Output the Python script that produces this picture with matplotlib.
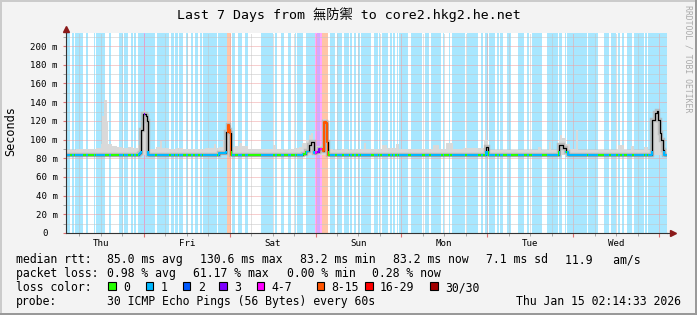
import numpy as np
import matplotlib
matplotlib.use('Agg')
import matplotlib.pyplot as plt
from matplotlib.path import Path
from matplotlib.patches import Rectangle
from matplotlib.ticker import FixedLocator, FuncFormatter, NullFormatter
import matplotlib.colors as mcolors

W, H = 697, 315

# ---------------- data (hours since Thu Jan 8 00:00) ----------------
start_h, end_h = 2.24, 170.24
day_labels = ['Thu', 'Fri', 'Sat', 'Sun', 'Mon', 'Tue', 'Wed']

# periods with zero packet loss (everything else not listed is loss "1")
loss0_gaps = [
    (3.31, 3.87), (4.52, 4.80), (7.13, 7.87), (8.34, 10.11), (10.48, 10.76),
    (13.09, 14.21), (14.86, 17.01), (18.13, 18.59), (19.62, 20.36), (20.92, 21.20),
    (21.76, 22.41), (27.17, 27.73), (31.17, 31.73), (32.39, 32.76), (33.50, 33.88),
    (34.90, 35.74), (36.39, 37.14), (37.88, 38.26), (39.10, 39.56), (40.12, 40.49),
    (44.41, 44.78), (48.32, 48.70), (49.44, 50.28), (51.40, 52.14), (53.17, 56.62),
    (60.07, 60.53), (61.28, 62.21), (63.05, 64.26), (65.19, 66.12), (66.59, 66.87),
    (68.45, 69.20), (75.44, 76.10), (77.40, 77.96), (79.45, 79.82), (81.22, 81.60),
    (82.25, 82.62), (83.37, 83.74), (84.30, 84.67), (87.47, 88.21), (89.33, 89.61),
    (89.98, 90.45), (92.31, 92.69), (93.34, 93.71), (94.27, 94.64), (95.11, 95.30),
    (97.91, 98.56), (101.82, 102.47), (103.68, 104.24), (107.13, 107.60), (107.88, 109.18),
    (109.65, 110.21), (113.66, 114.31), (117.38, 118.22), (118.78, 119.34), (120.18, 120.46),
    (122.23, 122.70), (123.16, 123.54), (124.37, 125.49), (126.70, 128.57), (130.25, 131.08),
    (131.55, 132.48), (135.37, 136.77), (139.75, 140.03), (140.87, 141.62), (142.08, 142.36),
    (147.86, 148.23), (150.94, 152.61), (154.01, 154.57), (156.06, 156.43), (156.99, 157.55),
    (158.21, 159.04), (160.44, 161.00), (163.80, 164.17), (164.64, 164.92),
]
# periods with higher loss
loss_bands = [
    (24.00, 24.37, '3'), (47.20, 48.32, '8-15'), (71.72, 72.37, '4-7'),
    (72.37, 73.11, '3'), (73.11, 73.67, '4-7'), (73.67, 75.44, '8-15'),
]

median_h = [2.24, 12.0, 20.0, 22.6, 23.0, 23.15, 23.9, 24.28, 24.64, 24.98, 25.3,
            35.0, 45.0, 45.1, 46.4, 46.9, 47.4, 47.85, 48.13, 48.41, 60.0,
            68.37, 69.3, 70.22, 70.69, 71.45, 72.09, 72.93, 73.97, 74.25, 74.9, 75.17, 75.36,
            90.0, 105.0, 118.9, 119.6, 120.1, 130.0, 140.0, 140.15, 141.05, 142.0, 142.6,
            155.0, 165.9, 166.0, 166.5, 166.87, 167.43, 167.8, 168.19, 168.55, 169.03, 169.47,
            170.24]
median_v = [83.7, 83.8, 83.7, 84.3, 86.0, 110.0, 127.0, 127.0, 125.0, 120.0, 83.7,
            83.6, 83.7, 85.5, 85.5, 108.0, 115.5, 110.0, 107.0, 83.7, 83.7,
            84.5, 88.0, 94.0, 97.0, 86.0, 87.0, 90.0, 88.0, 119.0, 118.0, 97.0, 83.7,
            83.6, 83.7, 83.7, 92.0, 83.7, 83.7, 83.8, 94.0, 90.5, 87.0, 83.7,
            83.7, 83.7, 121.0, 121.0, 128.0, 130.6, 121.0, 107.0, 99.5, 89.0, 83.7,
            83.2]

smoke_h = [2.24, 5.0, 7.0, 9.0, 10.5, 11.9, 12.26, 12.96, 13.65, 14.07, 15.0, 16.5, 18.0,
           19.5, 21.0, 22.5, 23.0, 23.2, 23.9, 24.3, 24.7, 25.0, 25.35, 26.0, 27.5, 28.4,
           29.2, 31.0, 33.0, 35.0, 37.0, 39.0, 41.0, 43.6, 44.2, 45.0, 46.0, 46.9, 47.4,
           47.85, 48.2, 48.5, 49.5, 50.5, 51.5, 53.0, 55.0, 57.0, 59.0, 60.0, 61.0, 63.0,
           64.5, 66.0, 67.5, 68.3, 69.3, 70.2, 70.7, 71.3, 71.5, 72.5, 73.5, 74.0, 74.9,
           75.3, 75.6, 77.0, 79.0, 81.0, 83.0, 85.5, 86.0, 88.0, 90.5, 92.0, 94.5, 95.3,
           98.0, 101.0, 104.8, 106.5, 108.4, 110.4, 113.2, 116.8, 119.06, 119.3, 119.7,
           120.2, 124.7, 128.0, 131.0, 134.2, 135.0, 137.2, 137.8, 140.0, 140.3, 141.0,
           142.0, 143.0, 144.8, 145.3, 150.0, 153.0, 156.5, 158.2, 160.2, 161.0, 163.8,
           164.9, 165.8, 166.0, 166.5, 166.9, 167.4, 167.8, 168.2, 168.55, 169.0, 169.5,
           170.24]
smoke_hi = [89.0, 90.0, 89.5, 90.0, 91.0, 95.0, 125.0, 142.0, 120.0, 95.0, 93.0, 92.0, 91.0,
            92.0, 90.5, 94.0, 100.0, 115.0, 131.0, 131.0, 128.0, 122.0, 90.0, 90.0, 92.0, 98.0,
            91.0, 90.0, 91.0, 90.0, 89.5, 90.0, 90.5, 95.0, 91.0, 92.0, 100.0, 112.0, 118.0,
            113.0, 110.0, 92.0, 93.0, 96.0, 93.0, 90.0, 89.5, 90.0, 89.5, 94.0, 90.0, 89.0,
            90.0, 91.0, 92.0, 96.0, 100.0, 105.0, 107.0, 100.0, 93.0, 93.0, 95.0, 122.0, 121.0,
            100.0, 90.0, 89.0, 89.5, 89.0, 90.0, 96.0, 90.0, 89.5, 94.0, 91.0, 95.0, 90.0,
            89.5, 90.0, 94.0, 90.0, 96.0, 90.0, 91.0, 91.0, 100.0, 110.0, 100.0,
            88.5, 89.0, 89.0, 89.0, 92.0, 89.0, 97.0, 89.0, 99.0, 105.0, 102.0,
            95.0, 90.0, 110.0, 89.0, 88.5, 88.5, 94.0, 88.5, 93.0, 88.5, 92.0,
            88.5, 95.0, 122.0, 125.0, 131.0, 133.0, 126.0, 112.0, 104.0, 94.0, 89.0,
            88.0]
smoke_floor = 83.0

loss_labels = ['0', '1', '2', '3', '4-7', '8-15', '16-29', '30/30']
loss_colors = ['#26ff00', '#00b8ff', '#0059ff', '#7e00ff', '#ff00ff', '#ff5500', '#ff0000', '#a10000']

stats_rtt = [('median rtt:', 16), ('85.0 ms avg', 107), ('130.6 ms max', 200),
             ('83.2 ms min', 300), ('83.2 ms now', 393), ('7.1 ms sd', 486), ('11.9   am/s', 565)]
stats_loss = [('packet loss:', 16), ('0.98 % avg', 107), ('61.17 % max', 193),
              ('0.00 % min', 287), ('0.28 % now', 372)]
probe_text = '30 ICMP Echo Pings (56 Bytes) every 60s'
date_text = 'Thu Jan 15 02:14:33 2026'
title_text = 'Last 7 Days from 無防禦 to core2.hkg2.he.net'

# ---------------- drawing ----------------
MONO = ['DejaVu Sans Mono', 'Noto Sans CJK TC']
plt.rcParams['font.family'] = MONO


def fx(x):
    return x / W


def fy(y):
    return 1 - y / H


def light(c, a=0.34):
    r, g, b = mcolors.to_rgb(c)
    return (1 - a + a * r, 1 - a + a * g, 1 - a + a * b)


cmap = dict(zip(loss_labels, loss_colors))

fig = plt.figure(figsize=(W / 100, H / 100), dpi=100, facecolor='#f3f3f3')
ax = fig.add_axes([fx(66), fy(233), (667 - 66) / W, 200 / H])
ax.set_facecolor('white')
ax.set_xlim(start_h, end_h)
ax.set_ylim(0, 214)

# loss background stripes
segs = [(s, e, '0') for s, e in loss0_gaps] + list(loss_bands)
segs.sort()
full = []
cur = start_h
for s, e, c in segs:
    if s > cur:
        full.append((cur, s, '1'))
    full.append((s, e, c))
    cur = max(cur, e)
if cur < end_h:
    full.append((cur, end_h, '1'))
for s, e, c in full:
    if c != '0':
        ax.axvspan(s, e, color=light(cmap[c]), lw=0, zorder=1, antialiased=False)

# smoke
ax.fill_between(smoke_h, smoke_floor, smoke_hi, step='post', color='#d9d9d9', lw=0, zorder=1.6)

# median
ax.plot(median_h, median_v, drawstyle='steps-post', color='#b4b4b4', lw=3.2, alpha=0.8,
        zorder=1.8, solid_joinstyle='miter')
ax.plot(median_h, median_v, drawstyle='steps-post', color='black', lw=0.9, zorder=2.1)
for c in loss_labels:
    rects = [(s, e) for s, e, cc in full if cc == c]
    if not rects:
        continue
    ylo, yhi = (70, 88) if c in ('0', '1') else (0, 214)
    verts, codes = [], []
    for s, e in rects:
        verts += [(s, ylo), (e, ylo), (e, yhi), (s, yhi), (s, ylo)]
        codes += [Path.MOVETO, Path.LINETO, Path.LINETO, Path.LINETO, Path.CLOSEPOLY]
    ln, = ax.plot(median_h, median_v, drawstyle='steps-post', color=cmap[c], lw=1.5, zorder=2.2)
    ln.set_clip_path(Path(verts, codes), ax.transData)

# grid and ticks
ax.xaxis.set_major_locator(FixedLocator([24 * k for k in range(1, 8)]))
ax.xaxis.set_minor_locator(FixedLocator([6 * k for k in range(1, 29) if k % 4]))
ax.xaxis.set_major_formatter(NullFormatter())
ax.xaxis.set_minor_formatter(FuncFormatter(
    lambda v, p: day_labels[int(round(v)) // 24] if int(round(v)) % 24 == 12 else ''))
ax.yaxis.set_major_locator(FixedLocator(list(range(0, 201, 20))))
ax.yaxis.set_minor_locator(FixedLocator(list(range(10, 211, 20))))
ax.yaxis.set_major_formatter(FuncFormatter(lambda v, p: '' if v == 0 else '%d m' % v))
ax.set_axisbelow('line')
ax.grid(which='major', color='#f0a0a0', ls=(0, (1, 1)), lw=0.72)
ax.grid(which='minor', color='#c4c4c4', ls=(0, (1, 1)), lw=0.72)
ax.tick_params(which='both', labelsize=6.6, pad=2.5)
ax.tick_params(axis='x', which='major', length=3, color='#e07070', direction='out')
ax.tick_params(axis='x', which='minor', length=2, color='#999999', direction='out')
ax.tick_params(axis='y', which='major', length=2, color='#e07070', direction='out', pad=4)
ax.tick_params(axis='y', which='minor', length=2, color='#999999', direction='out')
for sp in ('top', 'right'):
    ax.spines[sp].set_visible(False)
for sp in ('left', 'bottom'):
    ax.spines[sp].set_color('#333333')
    ax.spines[sp].set_linewidth(0.8)
    ax.spines[sp].set_zorder(3)

fig.text(fx(48), fy(233), '0', ha='right', va='center', fontsize=6.6)

# axis arrows
ax.plot([1, 1 + 5 / 601], [0, 0], transform=ax.transAxes, color='#333333', lw=0.8, clip_on=False)
ax.plot([1 + 6 / 601], [0], transform=ax.transAxes, marker='>', ms=4.5, color='#8b1a1a',
        mec='#8b1a1a', clip_on=False)
ax.plot([0, 0], [1, 1 + 3 / 200], transform=ax.transAxes, color='#333333', lw=0.8, clip_on=False)
ax.plot([0], [1 + 4.5 / 200], transform=ax.transAxes, marker='^', ms=4.5, color='#8b1a1a',
        mec='#8b1a1a', clip_on=False)

# texts
fig.text(fx(348.5), fy(19.3), title_text, ha='center', va='baseline', fontsize=9.5, family=MONO)
fig.text(fx(11), fy(131), 'Seconds', ha='center', va='center', rotation=90, fontsize=8.6)
fig.text(fx(688), fy(5), 'RRDTOOL / TOBI OETIKER', ha='center', va='top', rotation=270,
         fontsize=5.9, color='#aaaaaa')

LFS = 8.3
for txt, x in stats_rtt:
    fig.text(fx(x), fy(263.3), txt, ha='left', va='baseline', fontsize=LFS)
for txt, x in stats_loss:
    fig.text(fx(x), fy(277.3), txt, ha='left', va='baseline', fontsize=LFS)
fig.text(fx(16), fy(291.3), 'loss color:', ha='left', va='baseline', fontsize=LFS)
box_x = [108.3, 145.7, 182.7, 219.3, 256.7, 316.7, 365.0, 430.0]
for lab, col, bx in zip(loss_labels, loss_colors, box_x):
    fig.patches.append(Rectangle((fx(bx), fy(290.3)), 7.7 / W, 8 / H, transform=fig.transFigure,
                                 facecolor=col, edgecolor='black', lw=0.8))
    fig.text(fx(bx + 15), fy(291.3), lab, ha='left', va='baseline', fontsize=LFS)
fig.text(fx(16), fy(305.3), 'probe:', ha='left', va='baseline', fontsize=LFS)
fig.text(fx(107), fy(305.3), probe_text, ha='left', va='baseline', fontsize=LFS)
fig.text(fx(681), fy(305.3), date_text, ha='right', va='baseline', fontsize=LFS)

# 3D frame
fig.patches.append(Rectangle((0, 1 - 2 / H), 1, 2 / H, transform=fig.transFigure, color='#cbcbcb', lw=0))
fig.patches.append(Rectangle((0, 0), 2 / W, 1, transform=fig.transFigure, color='#cbcbcb', lw=0))
fig.patches.append(Rectangle((0, 0), 1, 2 / H, transform=fig.transFigure, color='#999999', lw=0))
fig.patches.append(Rectangle((1 - 2 / W, 0), 2 / W, 1, transform=fig.transFigure, color='#999999', lw=0))

fig.savefig('out.png', dpi=100, facecolor=fig.get_facecolor())
